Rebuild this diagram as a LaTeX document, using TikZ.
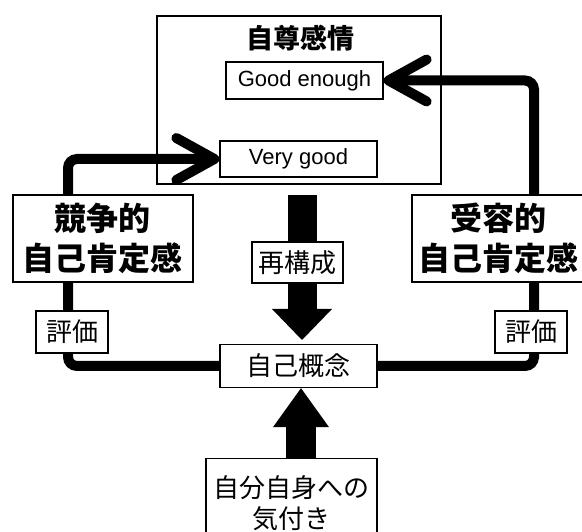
\documentclass[tikz,border=0pt]{standalone}
\usepackage{fontspec}
\setmainfont{Liberation Sans}
\newfontfamily\jp{Noto Sans CJK JP}
\usetikzlibrary{arrows.meta,backgrounds}
\begin{document}
\begin{tikzpicture}[x=1pt,y=-1pt,
  box/.style={draw, line width=1.3pt, fill=white, inner sep=0pt, align=center},
  conn/.style={line width=10pt, rounded corners=9pt,
    -{Straight Barb[length=38pt,width=42pt,line cap=round,line join=round]}},
  blockarrow/.style={line width=29pt}
]
\useasboundingbox (0,0) rectangle (582,532);
\node[box, minimum width=157pt, minimum height=37pt, font=\fontsize{22}{24}\selectfont] (ge) at (304.5,80.5) {Good enough};
\node[box, minimum width=157pt, minimum height=36pt, font=\fontsize{22}{24}\selectfont] (vg) at (298.5,159) {Very good};
% side boxes
\node[box, minimum width=180pt, minimum height=87pt, font=\jp\bfseries\fontsize{32}{40}\selectfont] (kyo) at (103,238.5) {競争的\\自己肯定感};
\node[box, minimum width=172pt, minimum height=87pt, font=\jp\bfseries\fontsize{32}{40}\selectfont] (ju) at (498,238.5) {受容的\\自己肯定感};
\node[box, minimum width=72pt, minimum height=42pt, font=\jp\fontsize{26}{30}\selectfont] (hl) at (72,332) {評価};
\node[box, minimum width=72pt, minimum height=42pt, font=\jp\fontsize{26}{30}\selectfont] (hr) at (531,332) {評価};
% self concept
\node[box, minimum width=157pt, minimum height=43pt, font=\jp\fontsize{26}{30}\selectfont] (ko) at (298.5,366) {自己概念};
% bottom box
\node[box, minimum width=171pt, minimum height=90pt, anchor=north, font=\jp\fontsize{26}{31}\selectfont, inner ysep=10pt] (ki) at (291.5,458) {自分自身への\\気付き};
% re-construct
\coordinate (dtop) at (302,195);
\coordinate (dtip) at (302,340);
\begin{scope}[on background layer]
% big box
\node[box, minimum width=284pt, minimum height=168pt] (se) at (299,100) {};
\node[font=\jp\bfseries\fontsize{27}{30}\selectfont] (setitle) at (300,38) {自尊感情};
\draw[conn] (ko.west) -| (68,260) |- (vg.west);
\draw[conn] (ko.east) -| (534,260) |- (ge.east);
\draw[blockarrow, -{Triangle[length=31pt,width=60pt,line width=0pt]}] (dtop) -- (dtip);
\draw[blockarrow, line width=30pt, -{Triangle[length=39pt,width=56pt,line width=0pt]}] (ki.north -| 301,0) -- (ko.south -| 301,0);
\end{scope}
\node[box, minimum width=91pt, minimum height=41pt, font=\jp\fontsize{26}{30}\selectfont] (sai) at (297.5,262.5) {再構成};
\end{tikzpicture}
\end{document}
